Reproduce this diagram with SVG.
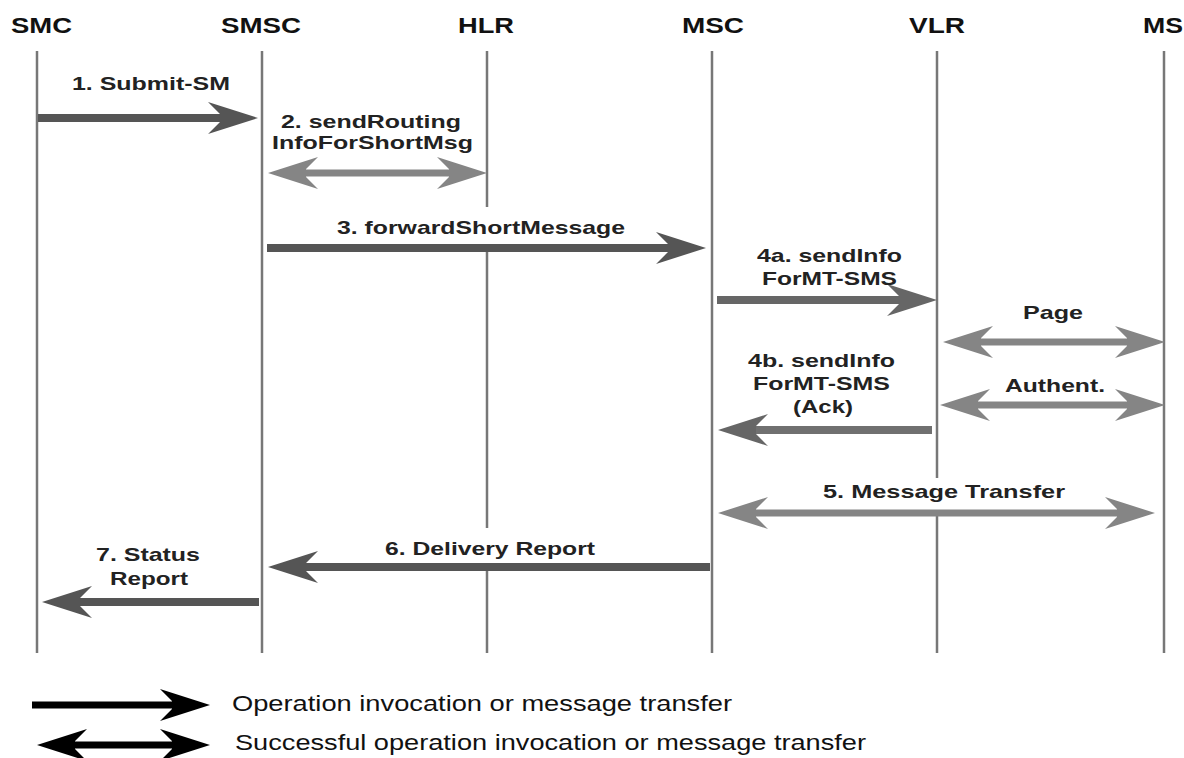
<svg xmlns="http://www.w3.org/2000/svg" width="1184" height="758" viewBox="0 0 1184 758">
<style>
.hdr{font-family:"Liberation Sans",Arial,sans-serif;font-weight:bold;font-size:22px;fill:#111}
.lbl{font-family:"Liberation Sans",Arial,sans-serif;font-weight:bold;font-size:19px;fill:#222}
.leg{font-family:"Liberation Sans",Arial,sans-serif;font-size:22px;fill:#111}
.life{stroke:#777;stroke-width:2.5;fill:none}
.dark{stroke:#555;stroke-width:8;fill:none;marker-end:url(#mDark)}
.mid{stroke:#666;stroke-width:8;fill:none;marker-end:url(#mMid)}
.light{stroke:#858585;stroke-width:7;fill:none;marker-start:url(#mLight);marker-end:url(#mLight)}
.black{stroke:#000;stroke-width:7;fill:none;marker-end:url(#mBlack)}
.blackd{stroke:#000;stroke-width:7;fill:none;marker-start:url(#mBlack);marker-end:url(#mBlack)}
</style>
<defs>
<marker id="mDark" viewBox="0 -17 52 34" markerWidth="52" markerHeight="34" refX="16" refY="0" markerUnits="userSpaceOnUse" orient="auto-start-reverse"><path d="M52,0 L2,-16 L14,-4 L14,4 L2,16 Z" fill="#555"/></marker>
<marker id="mMid" viewBox="0 -17 52 34" markerWidth="52" markerHeight="34" refX="16" refY="0" markerUnits="userSpaceOnUse" orient="auto-start-reverse"><path d="M52,0 L2,-16 L14,-4 L14,4 L2,16 Z" fill="#666"/></marker>
<marker id="mLight" viewBox="0 -17 52 34" markerWidth="52" markerHeight="34" refX="16" refY="0" markerUnits="userSpaceOnUse" orient="auto-start-reverse"><path d="M52,0 L2,-16 L14,-4 L14,4 L2,16 Z" fill="#858585"/></marker>
<marker id="mBlack" viewBox="0 -17 52 34" markerWidth="52" markerHeight="34" refX="16" refY="0" markerUnits="userSpaceOnUse" orient="auto-start-reverse"><path d="M52,0 L2,-16 L14,-4 L14,4 L2,16 Z" fill="#000"/></marker>
</defs>
<rect width="1184" height="758" fill="#fff"/>

<g id="SMC"><text class="hdr" x="11" y="33" textLength="61" lengthAdjust="spacingAndGlyphs">SMC</text><line class="life" x1="37" y1="51" x2="37" y2="653"/></g>
<g id="SMSC"><text class="hdr" x="221" y="33" textLength="80" lengthAdjust="spacingAndGlyphs">SMSC</text><line class="life" x1="262" y1="51" x2="262" y2="653"/></g>
<g id="HLR"><text class="hdr" x="458" y="33" textLength="56" lengthAdjust="spacingAndGlyphs">HLR</text><path class="life" d="M487,51 V207 M487,244 V528 M487,566 V653"/></g>
<g id="MSC"><text class="hdr" x="682" y="33" textLength="62" lengthAdjust="spacingAndGlyphs">MSC</text><line class="life" x1="712" y1="51" x2="712" y2="653"/></g>
<g id="VLR"><text class="hdr" x="909" y="33" textLength="56" lengthAdjust="spacingAndGlyphs">VLR</text><path class="life" d="M937,51 V478 M937,512 V653"/></g>
<g id="MS"><text class="hdr" x="1143" y="33" textLength="40" lengthAdjust="spacingAndGlyphs">MS</text><line class="life" x1="1164" y1="51" x2="1164" y2="653"/></g>

<g id="connectors">
<line class="dark" x1="38" y1="118" x2="222" y2="118"/>
<line class="light" x1="304" y1="173" x2="451" y2="173"/>
<line class="dark" x1="267" y1="248" x2="670" y2="248"/>
<line class="mid" x1="717" y1="300" x2="901" y2="300"/>
<line class="light" x1="979" y1="342" x2="1129" y2="342"/>
<line class="light" x1="976" y1="405" x2="1129" y2="405"/>
<line class="mid" x1="932" y1="430" x2="754" y2="430" style="stroke:#707070"/>
<line class="light" x1="754" y1="513" x2="1119" y2="513"/>
<line class="dark" x1="710" y1="567" x2="304" y2="567"/>
<line class="dark" x1="259" y1="602" x2="78" y2="602"/>
</g>

<g id="labels">
<text class="lbl" x="72" y="90" textLength="158" lengthAdjust="spacingAndGlyphs">1. Submit-SM</text>
<text class="lbl" x="281" y="128" textLength="180" lengthAdjust="spacingAndGlyphs">2. sendRouting</text>
<text class="lbl" x="272" y="149" textLength="201" lengthAdjust="spacingAndGlyphs">InfoForShortMsg</text>
<text class="lbl" x="337" y="234" textLength="288" lengthAdjust="spacingAndGlyphs">3. forwardShortMessage</text>
<text class="lbl" x="757" y="262" textLength="145" lengthAdjust="spacingAndGlyphs">4a. sendInfo</text>
<text class="lbl" x="762" y="285" textLength="135" lengthAdjust="spacingAndGlyphs">ForMT-SMS</text>
<text class="lbl" x="1023" y="319" textLength="60" lengthAdjust="spacingAndGlyphs">Page</text>
<text class="lbl" x="748" y="367" textLength="147" lengthAdjust="spacingAndGlyphs">4b. sendInfo</text>
<text class="lbl" x="753" y="390" textLength="137" lengthAdjust="spacingAndGlyphs">ForMT-SMS</text>
<text class="lbl" x="793" y="413" textLength="60" lengthAdjust="spacingAndGlyphs">(Ack)</text>
<text class="lbl" x="1005" y="392" textLength="100" lengthAdjust="spacingAndGlyphs">Authent.</text>
<text class="lbl" x="823" y="498" textLength="242" lengthAdjust="spacingAndGlyphs">5. Message Transfer</text>
<text class="lbl" x="385" y="555" textLength="210" lengthAdjust="spacingAndGlyphs">6. Delivery Report</text>
<text class="lbl" x="96" y="561" textLength="104" lengthAdjust="spacingAndGlyphs">7. Status</text>
<text class="lbl" x="110" y="585" textLength="78" lengthAdjust="spacingAndGlyphs">Report</text>
</g>

<g id="legend">
<line class="black" x1="32" y1="705" x2="174" y2="705"/>
<line class="blackd" x1="73" y1="745" x2="174" y2="745"/>
<text class="leg" x="232" y="711" textLength="500" lengthAdjust="spacingAndGlyphs">Operation invocation or message transfer</text>
<text class="leg" x="235" y="750" textLength="631" lengthAdjust="spacingAndGlyphs">Successful operation invocation or message transfer</text>
</g>
</svg>
